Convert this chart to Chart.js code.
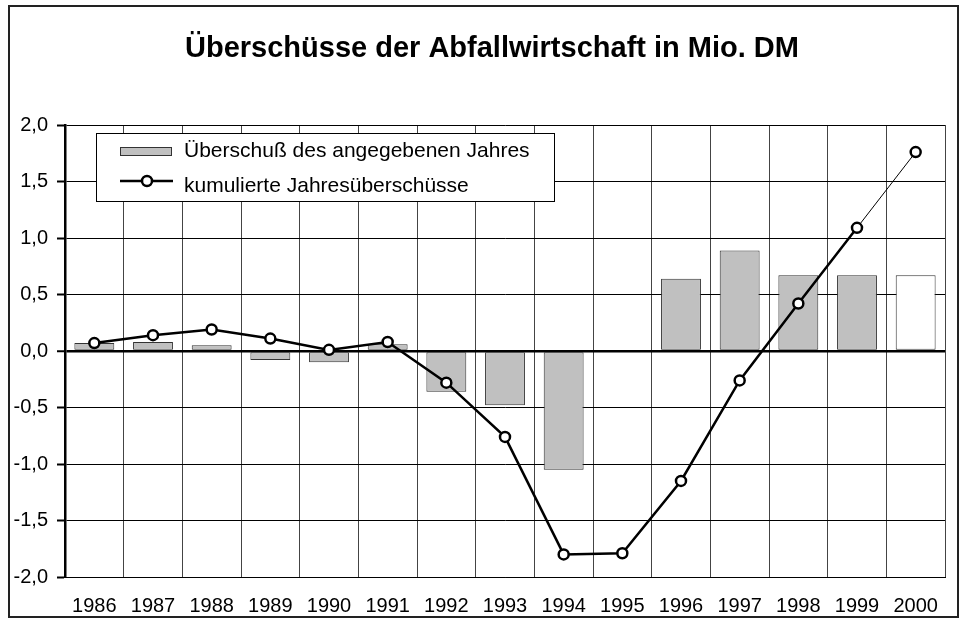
<!DOCTYPE html>
<html>
<head>
<meta charset="utf-8">
<script src="https://cdn.jsdelivr.net/npm/chart.js@4.4.1/dist/chart.umd.min.js"></script>
<style>
  html, body { margin: 0; padding: 0; background: #fff; }
  #wrap { width: 965px; height: 623px; }
</style>
</head>
<body>
<div id="wrap"><canvas id="myChart" width="965" height="623"></canvas></div>
<script>
var years = ['1986', '1987', '1988', '1989', '1990', '1991', '1992', '1993',
             '1994', '1995', '1996', '1997', '1998', '1999', '2000'];
// Überschuß des jeweiligen Jahres
var surplus = [0.07, 0.08, 0.05, -0.08, -0.10, 0.06, -0.36, -0.48,
               -1.05, 0.01, 0.64, 0.89, 0.67, 0.67, 0.67];
// kumulierte Überschüsse
var cumulated = [0.07, 0.14, 0.19, 0.11, 0.01, 0.08, -0.28, -0.76,
                 -1.80, -1.79, -1.15, -0.26, 0.42, 1.09, 1.76];
var yTicks = [-2, -1.5, -1, -0.5, 0, 0.5, 1, 1.5, 2];
var titleText = 'Überschüsse der Abfallwirtschaft in Mio. DM';

var FONT = "'Liberation Sans', Arial, sans-serif";
var lastIdx = years.length - 1;

// Titel, eigene Legende im Diagramm und Rahmen
var extras = {
  id: 'extras',
  afterDraw: function(chart) {
    var c = chart.ctx;
    c.save();

    c.fillStyle = '#000';
    c.font = 'bold 29px ' + FONT;
    c.textAlign = 'center';
    c.textBaseline = 'alphabetic';
    c.fillText(titleText, 492, 57);
    c.textAlign = 'left';

    c.fillStyle = '#fff';
    c.strokeStyle = '#000';
    c.lineWidth = 1;
    c.fillRect(96, 133, 458, 68);
    c.strokeRect(96.5, 133.5, 458, 68);

    c.fillStyle = '#c0c0c0';
    c.fillRect(120, 147, 51, 8);
    c.strokeStyle = '#333';
    c.strokeRect(120.5, 147.5, 51, 8);

    c.strokeStyle = '#000';
    c.lineWidth = 2.5;
    c.beginPath();
    c.moveTo(120, 181);
    c.lineTo(173, 181);
    c.stroke();
    c.beginPath();
    c.arc(147, 181, 5, 0, Math.PI * 2);
    c.fillStyle = '#fff';
    c.fill();
    c.stroke();

    c.fillStyle = '#000';
    c.font = '21px ' + FONT;
    c.fillText(chart.data.datasets[1].label, 184, 157);
    c.fillText(chart.data.datasets[0].label, 184, 192);

    // Rahmen
    c.lineWidth = 2;
    c.strokeStyle = '#222';
    c.strokeRect(9, 6, 949, 611);
    c.restore();
  }
};

var ctx = document.getElementById('myChart').getContext('2d');
var myChart = new Chart(ctx, {
  data: {
    labels: years,
    datasets: [{
      type: 'line',
      label: 'kumulierte Jahresüberschüsse',
      data: cumulated,
      borderColor: '#000',
      borderWidth: 2.5,
      pointRadius: 5,
      pointBorderWidth: 2.5,
      pointBackgroundColor: '#fff',
      pointBorderColor: '#000',
      tension: 0,
      order: 1,
      segment: {
        borderWidth: function(s) { return s.p1DataIndex === lastIdx ? 1 : 2.5; }
      }
    }, {
      type: 'bar',
      label: 'Überschuß des angegebenen Jahres',
      data: surplus,
      backgroundColor: function(c) { return c.dataIndex === lastIdx ? '#fff' : '#c0c0c0'; },
      borderColor: '#333',
      borderWidth: 1,
      borderSkipped: false,
      barPercentage: 0.68,
      categoryPercentage: 1,
      order: 2
    }]
  },
  options: {
    responsive: false,
    animation: false,
    layout: { padding: { left: 0, right: 20, top: 125, bottom: 0 } },
    plugins: {
      legend: { display: false },
      tooltip: { enabled: false },
      title: { display: false }
    },
    scales: {
      x: {
        offset: true,
        grid: { offset: true, color: '#444', lineWidth: 1, drawTicks: false },
        border: { color: '#000', width: 1 },
        ticks: { color: '#000', font: { family: FONT, size: 20 }, padding: 17, maxRotation: 0 },
        afterFit: function(s) { s.height = 46; }
      },
      y: {
        min: -2,
        max: 2,
        afterBuildTicks: function(s) { s.ticks = yTicks.map(function(v) { return { value: v }; }); },
        grid: {
          color: '#000',
          lineWidth: function(c) { return c.tick && c.tick.value === 0 ? 2.5 : 1; },
          tickLength: 8,
          tickColor: '#000',
          tickWidth: 2
        },
        border: { color: '#000', width: 2.5 },
        ticks: {
          color: '#000',
          font: { family: FONT, size: 20 },
          padding: 9,
          callback: function(v) { return v.toFixed(1).replace('.', ','); }
        },
        afterFit: function(s) { s.width = 65; }
      }
    }
  },
  plugins: [extras]
});
</script>
</body>
</html>
